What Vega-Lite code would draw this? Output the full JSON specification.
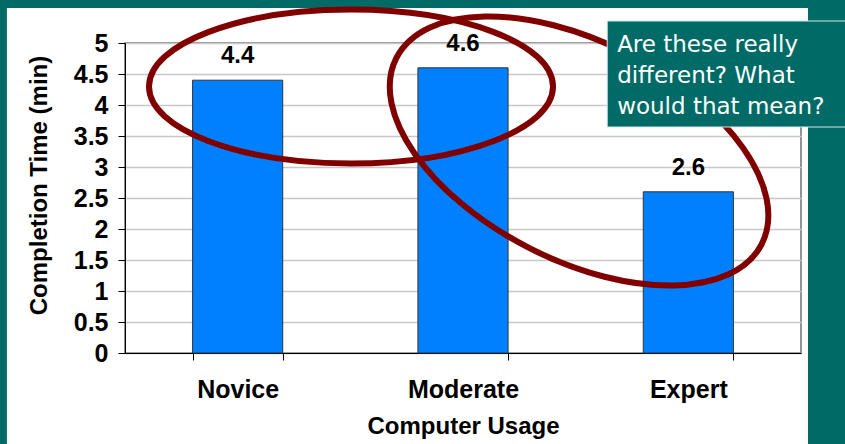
{
  "$schema": "https://vega.github.io/schema/vega-lite/v6.json",
  "autosize": {"type": "none"},
  "width": 676,
  "height": 310,
  "padding": {"left": 125, "top": 43, "right": 44, "bottom": 91},
  "background": "#ffffff",
  "config": {
    "view": {"stroke": "#707070", "strokeWidth": 1.5},
    "font": "Liberation Sans"
  },
  "datasets": {
    "usage": [
      {"usage": "Novice", "time": 4.4},
      {"usage": "Moderate", "time": 4.6},
      {"usage": "Expert", "time": 2.6}
    ],
    "frame": [
      {"part": "left", "x1": -1, "x2": -0.524, "y1": -2, "y2": 6},
      {"part": "top", "x1": -1, "x2": 4, "y1": 5.565, "y2": 6},
      {"part": "right", "x1": 3.031, "x2": 4, "y1": -2, "y2": 6}
    ],
    "circles": [
      {"name": "pair", "cx": 1.003, "cy": 4.298},
      {"name": "expert", "cx": 2.015, "cy": 3.258}
    ],
    "note": [
      {"x1": 2.14, "x2": 3.5, "y1": 5.355, "y2": 3.645, "tx": 2.184, "ty": 4.855, "label": "Are these really\ndifferent? What\nwould that mean?"}
    ]
  },
  "layer": [
    {
      "data": {"name": "usage"},
      "encoding": {
        "x": {
          "field": "usage",
          "type": "nominal",
          "sort": null,
          "scale": {"paddingInner": 0.6, "paddingOuter": 0.3},
          "axis": {
            "title": "Computer Usage",
            "labelAngle": 0,
            "tickBand": "extent",
            "tickSize": 7,
            "tickColor": "#000000",
            "domainColor": "#000000",
            "labelFont": "Liberation Sans",
            "labelFontSize": 25,
            "labelFontWeight": "bold",
            "labelColor": "#000000",
            "labelPadding": 17,
            "titleFont": "Liberation Sans",
            "titleFontSize": 24,
            "titleFontWeight": "bold",
            "titleColor": "#000000",
            "titlePadding": 12
          }
        },
        "y": {
          "field": "time",
          "type": "quantitative",
          "scale": {"domain": [0, 5], "nice": false},
          "axis": {
            "title": "Completion Time (min)",
            "values": [0, 0.5, 1, 1.5, 2, 2.5, 3, 3.5, 4, 4.5, 5],
            "format": "~g",
            "tickSize": 7,
            "tickColor": "#000000",
            "domainColor": "#000000",
            "gridColor": "#c8c8c8",
            "gridWidth": 1.5,
            "labelFont": "Liberation Sans",
            "labelFontSize": 25,
            "labelFontWeight": "bold",
            "labelColor": "#000000",
            "labelPadding": 10,
            "titleFont": "Liberation Sans",
            "titleFontSize": 24,
            "titleFontWeight": "bold",
            "titleColor": "#000000",
            "titlePadding": 22,
            "titleY": 142
          }
        }
      },
      "layer": [
        {"mark": {"type": "bar", "color": "#0080ff", "stroke": "#333333", "strokeWidth": 1}},
        {
          "mark": {"type": "text", "baseline": "alphabetic", "dy": -17, "font": "Liberation Sans", "fontSize": 24, "fontWeight": "bold", "color": "#000000"},
          "encoding": {"text": {"field": "time", "type": "quantitative", "format": ".1f"}}
        }
      ]
    },
    {
      "layer": [
        {
          "data": {"name": "frame"},
          "mark": {"type": "rect", "color": "#006b66", "clip": false},
          "encoding": {
            "x": {"field": "x1", "type": "quantitative", "scale": {"domain": [0, 3], "nice": false, "zero": false}, "axis": null},
            "x2": {"field": "x2"},
            "y": {"field": "y1", "type": "quantitative", "scale": {"domain": [0, 5], "nice": false, "zero": false}, "axis": null},
            "y2": {"field": "y2"}
          }
        },
        {
          "data": {"name": "circles"},
          "transform": [{"filter": "datum.name === 'pair'"}],
          "mark": {"type": "point", "shape": "M -1 0 A 1 0.381 0 1 1 1 0 A 1 0.381 0 1 1 -1 0 Z", "size": 163216, "filled": false, "stroke": "#800000", "strokeWidth": 6, "opacity": 1, "clip": false},
          "encoding": {
            "x": {"field": "cx", "type": "quantitative", "scale": {"domain": [0, 3], "nice": false, "zero": false}, "axis": null},
            "y": {"field": "cy", "type": "quantitative", "scale": {"domain": [0, 5], "nice": false, "zero": false}, "axis": null}
          }
        },
        {
          "data": {"name": "circles"},
          "transform": [{"filter": "datum.name === 'expert'"}],
          "mark": {"type": "point", "shape": "M -1 0 A 1 0.532 0 1 1 1 0 A 1 0.532 0 1 1 -1 0 Z", "size": 168100, "angle": 27, "filled": false, "stroke": "#800000", "strokeWidth": 6, "opacity": 1, "clip": false},
          "encoding": {
            "x": {"field": "cx", "type": "quantitative", "scale": {"domain": [0, 3], "nice": false, "zero": false}, "axis": null},
            "y": {"field": "cy", "type": "quantitative", "scale": {"domain": [0, 5], "nice": false, "zero": false}, "axis": null}
          }
        },
        {
          "data": {"name": "note"},
          "mark": {"type": "rect", "color": "#006b66", "stroke": "#d8e6e4", "strokeWidth": 1, "clip": false},
          "encoding": {
            "x": {"field": "x1", "type": "quantitative", "scale": {"domain": [0, 3], "nice": false, "zero": false}, "axis": null},
            "x2": {"field": "x2"},
            "y": {"field": "y1", "type": "quantitative", "scale": {"domain": [0, 5], "nice": false, "zero": false}, "axis": null},
            "y2": {"field": "y2"}
          }
        },
        {
          "data": {"name": "note"},
          "mark": {"type": "text", "align": "left", "baseline": "alphabetic", "lineBreak": "\n", "lineHeight": 31, "font": "DejaVu Sans", "fontSize": 23, "color": "#ffffff", "clip": false},
          "encoding": {
            "x": {"field": "tx", "type": "quantitative", "scale": {"domain": [0, 3], "nice": false, "zero": false}, "axis": null},
            "y": {"field": "ty", "type": "quantitative", "scale": {"domain": [0, 5], "nice": false, "zero": false}, "axis": null},
            "text": {"field": "label"}
          }
        }
      ]
    }
  ],
  "resolve": {"scale": {"x": "independent", "y": "independent"}}
}
